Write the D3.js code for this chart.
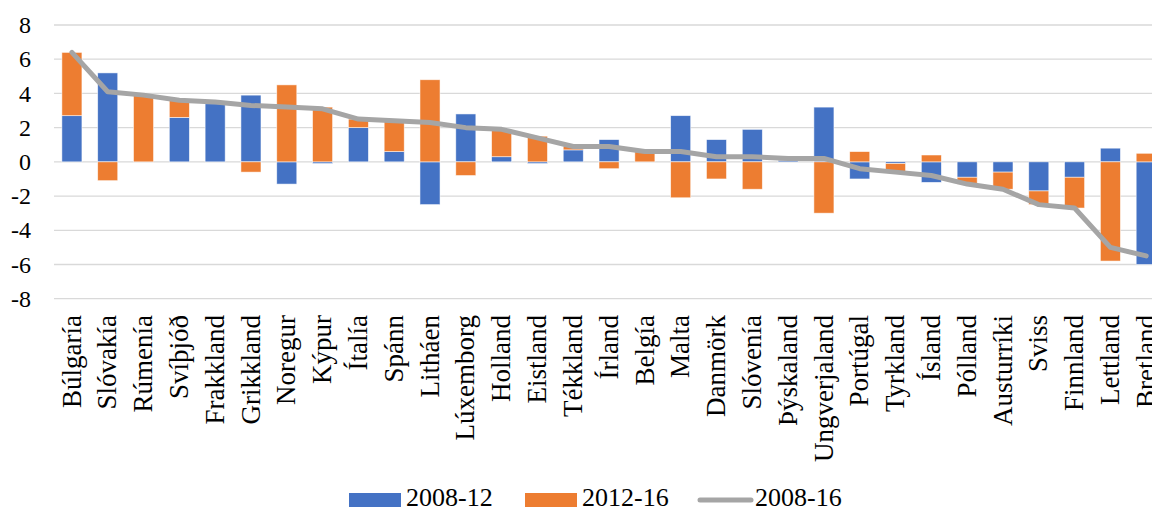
<!DOCTYPE html>
<html>
<head>
<meta charset="utf-8">
<script src="https://cdn.jsdelivr.net/npm/d3@7"></script>
<style>
  html, body { margin: 0; padding: 0; background: #fff; }
  svg { display: block; }
  text { font-family: "Liberation Serif", "Times New Roman", serif; fill: #000; }
</style>
</head>
<body>
<svg id="chart" width="1152" height="509"></svg>
<script>
// Countries, ordered by total change 2008-16
const countries = ["Búlgaría", "Slóvakía", "Rúmenía", "Svíþjóð", "Frakkland", "Grikkland", "Noregur", "Kýpur",
  "Ítalía", "Spánn", "Litháen", "Lúxemborg", "Holland", "Eistland", "Tékkland", "Írland", "Belgía", "Malta",
  "Danmörk", "Slóvenía", "Þýskaland", "Ungverjaland", "Portúgal", "Tyrkland", "Ísland", "Pólland",
  "Austurríki", "Sviss", "Finnland", "Lettland", "Bretland"];

// Change over 2008-12
const change2008_12 = [2.7, 5.2, 0.0, 2.6, 3.4, 3.9, -1.3, -0.1,
  2.0, 0.6, -2.5, 2.8, 0.3, -0.1, 0.7, 1.3, 0.0, 2.7,
  1.3, 1.9, 0.1, 3.2, -1.0, -0.1, -1.2, -0.9,
  -0.6, -1.7, -0.9, 0.8, -6.0];

// Change over 2012-16
const change2012_16 = [3.7, -1.1, 3.9, 1.0, 0.1, -0.6, 4.5, 3.2,
  0.5, 1.8, 4.8, -0.8, 1.6, 1.5, 0.2, -0.4, 0.6, -2.1,
  -1.0, -1.6, 0.1, -3.0, 0.6, -0.5, 0.4, -0.4,
  -1.0, -0.8, -1.8, -5.8, 0.5];

// Total change over 2008-16
const change2008_16 = [6.4, 4.1, 3.9, 3.6, 3.5, 3.3, 3.2, 3.1,
  2.5, 2.4, 2.3, 2.0, 1.9, 1.4, 0.9, 0.9, 0.6, 0.6,
  0.3, 0.3, 0.2, 0.2, -0.4, -0.6, -0.8, -1.3,
  -1.6, -2.5, -2.7, -5.0, -5.5];

const yTicks = [-8, -6, -4, -2, 0, 2, 4, 6, 8];
const seriesNames = ["2008-12", "2012-16", "2008-16"];
const colors = { "2008-12": "#4472C4", "2012-16": "#ED7D31", "2008-16": "#A5A5A5" };
const serif = '"Liberation Serif", "Times New Roman", serif';

const svg = d3.select("#chart");
const n = countries.length;
const step = 35.81;
const x0 = 54;

const x = d3.scaleBand()
  .domain(countries)
  .range([x0, x0 + step * n])
  .paddingInner(0.44)
  .paddingOuter(0.22);

const y = d3.scaleLinear().domain([-8, 8]).range([298.7, 25]);

// Gridlines
svg.append("g")
  .selectAll("line")
  .data(yTicks)
  .join("line")
  .attr("x1", x0)
  .attr("x2", 1152)
  .attr("y1", d => y(d))
  .attr("y2", d => y(d))
  .attr("stroke", "#D9D9D9")
  .attr("stroke-width", 1.3);

// Y axis labels (plain hyphen for negatives)
const yAxis = d3.axisLeft(y).tickValues(yTicks).tickSize(0).tickPadding(0).tickFormat(d => String(d));
const yg = svg.append("g").attr("transform", "translate(31,0)").call(yAxis);
yg.attr("font-family", null).attr("font-size", null);
yg.select(".domain").remove();
yg.selectAll("text")
  .style("font-family", serif)
  .style("font-size", "24px")
  .attr("fill", "#000");

// Stacked columns (diverging: positives up from zero, negatives down)
const rows = countries.map((c, i) => ({ country: c, "2008-12": change2008_12[i], "2012-16": change2012_16[i] }));
const stack = d3.stack().keys(["2008-12", "2012-16"]).offset(d3.stackOffsetDiverging);
const stacked = stack(rows);

svg.append("g")
  .selectAll("g")
  .data(stacked)
  .join("g")
  .attr("fill", s => colors[s.key])
  .selectAll("rect")
  .data(s => s)
  .join("rect")
  .attr("x", d => x(d.data.country))
  .attr("width", x.bandwidth())
  .attr("y", d => y(Math.max(d[0], d[1])))
  .attr("height", d => Math.abs(y(d[0]) - y(d[1])))
  .attr("stroke", "#fff")
  .attr("stroke-width", 0.75)
  .attr("stroke-opacity", 0.7);

// Total change line
const line = d3.line()
  .x((d, i) => x(countries[i]) + x.bandwidth() / 2)
  .y(d => y(d));

svg.append("path")
  .datum(change2008_16)
  .attr("d", line)
  .attr("fill", "none")
  .attr("stroke", colors["2008-16"])
  .attr("stroke-width", 5)
  .attr("stroke-linejoin", "round")
  .attr("stroke-linecap", "round");

// X axis labels, rotated
const xAxis = d3.axisBottom(x).tickSize(0).tickPadding(0);
const xg = svg.append("g").attr("transform", "translate(0,315)").call(xAxis);
xg.attr("font-family", null).attr("font-size", null);
xg.select(".domain").remove();
xg.selectAll("text")
  .style("font-family", serif)
  .style("font-size", "27px")
  .attr("fill", "#000")
  .attr("text-anchor", "end")
  .attr("transform", "rotate(-90)")
  .attr("x", 0)
  .attr("y", 0)
  .attr("dy", "0.32em");

// Legend
const legend = svg.append("g");
const legendItems = [
  { key: seriesNames[0], x: 349, type: "rect" },
  { key: seriesNames[1], x: 525, type: "rect" },
  { key: seriesNames[2], x: 698, type: "line" }
];
legendItems.forEach(item => {
  const g = legend.append("g").attr("transform", `translate(${item.x},0)`);
  if (item.type === "rect") {
    g.append("rect").attr("x", 0).attr("y", 493).attr("width", 52).attr("height", 14).attr("fill", colors[item.key]);
  } else {
    g.append("line").attr("x1", 2).attr("x2", 53).attr("y1", 500).attr("y2", 500)
      .attr("stroke", colors[item.key]).attr("stroke-width", 5).attr("stroke-linecap", "round");
  }
  g.append("text").attr("x", 57).attr("y", 506)
    .style("font-family", serif).style("font-size", "26px").text(item.key);
});
</script>
</body>
</html>
